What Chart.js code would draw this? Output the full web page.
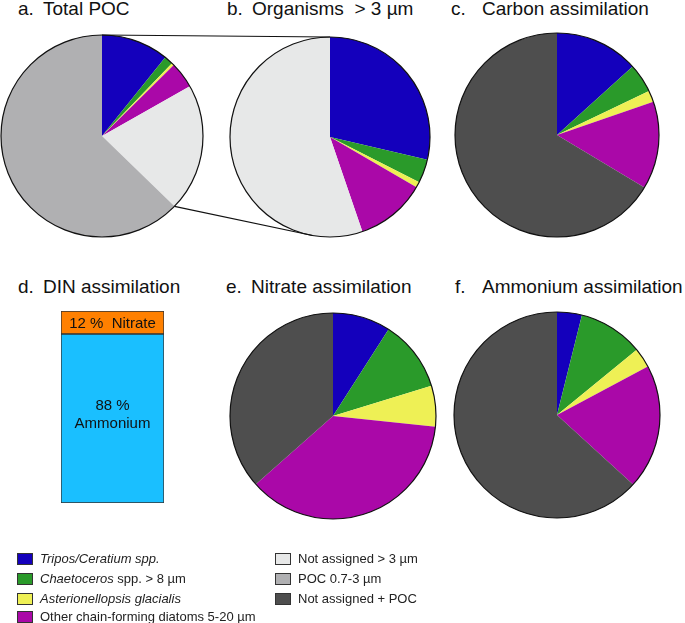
<!DOCTYPE html>
<html>
<head>
<meta charset="utf-8">
<script src="https://cdn.jsdelivr.net/npm/chart.js@4"></script>
<style>
body { margin: 0; background: #fff; font-family: "Liberation Sans", Arial, sans-serif; color: #111; }
#page { position: relative; width: 685px; height: 623px; overflow: hidden; }
canvas.c { position: absolute; }
.t { position: absolute; font-size: 19px; line-height: 19px; white-space: pre; }
.lg { position: absolute; font-size: 13px; line-height: 13px; white-space: pre; color: #222; }
.sw { position: absolute; width: 14px; height: 10px; border: 1px solid #333; }
</style>
</head>
<body>
<div id="page">
  <div class="t" style="left:18px;top:-1px">a.</div><div class="t" style="left:43px;top:-1px">Total POC</div>
  <div class="t" style="left:227px;top:-1px">b.</div><div class="t" style="left:252px;top:-1px">Organisms  &gt; 3 µm</div>
  <div class="t" style="left:451px;top:-1px">c.</div><div class="t" style="left:482px;top:-1px">Carbon assimilation</div>
  <div class="t" style="left:18px;top:277px">d.</div><div class="t" style="left:43px;top:277px">DIN assimilation</div>
  <div class="t" style="left:226px;top:277px">e.</div><div class="t" style="left:251px;top:277px">Nitrate assimilation</div>
  <div class="t" style="left:455px;top:277px">f.</div><div class="t" style="left:482px;top:277px">Ammonium assimilation</div>

  <canvas class="c" id="pa" width="206" height="206" style="left:-1px;top:33px"></canvas>
  <canvas class="c" id="pb" width="204" height="204" style="left:228px;top:35px"></canvas>
  <canvas class="c" id="pc" width="208" height="208" style="left:453px;top:31px"></canvas>
  <canvas class="c" id="bd" width="105" height="194" style="left:60px;top:310px"></canvas>
  <canvas class="c" id="pe" width="210" height="210" style="left:228px;top:311px"></canvas>
  <canvas class="c" id="pf" width="210" height="210" style="left:452px;top:310px"></canvas>
  <canvas class="c" id="ov" width="685" height="623" style="left:0;top:0;pointer-events:none"></canvas>

  <div id="legend"></div>
</div>
<script>
var categories = ['Tripos/Ceratium spp.', 'Chaetoceros spp. > 8 µm', 'Asterionellopsis glacialis',
    'Other chain-forming diatoms 5-20 µm', 'Not assigned > 3 µm', 'POC 0.7-3 µm', 'Not assigned + POC'];

// percent shares, clockwise from 12 o'clock
var totalPOC = [10.8, 1.4, 0.4, 4.2, 20.5, 62.8];
var organisms = [28.7, 3.8, 0.9, 11.4, 55.3];
var carbonAssim = [13.3, 4.6, 1.8, 13.9, 66.4];
var nitrateAssim = [9.1, 11.2, 6.4, 36.9, 36.6];
var ammoniumAssim = [3.9, 10.2, 3.1, 19.6, 63.3];

var dinLabels = ['Ammonium', 'Nitrate'];
var dinValues = [88, 12];

var colors = ['#1400bc', '#2a9a2a', '#eef055', '#aa08a8', '#e7e8e8', '#b0b0b2', '#4e4e4e'];
var legendItems = [
    ['<i>Tripos/Ceratium spp.</i>', 0, 17, 553],
    ['<i>Chaetoceros</i> spp. &gt; 8 µm', 1, 17, 573],
    ['<i>Asterionellopsis glacialis</i>', 2, 17, 593],
    ['Other chain-forming diatoms 5-20 µm', 3, 17, 611],
    ['Not assigned &gt; 3 µm', 4, 275, 553],
    ['POC 0.7-3 µm', 5, 275, 573],
    ['Not assigned + POC', 6, 275, 593]
];

var outline = {
    id: 'outline',
    afterDatasetsDraw: function(chart) {
        var arc = chart.getDatasetMeta(0).data[0];
        var ctx = chart.ctx;
        ctx.save();
        ctx.beginPath();
        ctx.arc(arc.x, arc.y, arc.outerRadius, 0, Math.PI * 2);
        ctx.lineWidth = 1.2;
        ctx.strokeStyle = '#111';
        ctx.stroke();
        ctx.restore();
    }
};

function pie(id, values, idx) {
    return new Chart(document.getElementById(id), {
        type: 'pie',
        data: {
            labels: idx.map(function(i) { return categories[i]; }),
            datasets: [{
                data: values,
                backgroundColor: idx.map(function(i) { return colors[i]; }),
                borderWidth: 0
            }]
        },
        options: {
            responsive: false,
            animation: false,
            layout: { padding: 2 },
            plugins: { legend: { display: false }, tooltip: { enabled: false } }
        },
        plugins: [outline]
    });
}

var chA = pie('pa', totalPOC, [0, 1, 2, 3, 4, 5]);
var chB = pie('pb', organisms, [0, 1, 2, 3, 4]);
pie('pc', carbonAssim, [0, 1, 2, 3, 6]);
pie('pe', nitrateAssim, [0, 1, 2, 3, 6]);
pie('pf', ammoniumAssim, [0, 1, 2, 3, 6]);

var barText = {
    id: 'barText',
    afterDatasetsDraw: function(chart) {
        var ctx = chart.ctx;
        var amm = chart.getDatasetMeta(0).data[0];
        var nit = chart.getDatasetMeta(1).data[0];
        ctx.save();
        ctx.fillStyle = '#111';
        ctx.font = '15px "Liberation Sans", Arial, sans-serif';
        ctx.textAlign = 'center';
        ctx.textBaseline = 'middle';
        ctx.fillText(dinValues[1] + ' %  ' + dinLabels[1], nit.x, (nit.y + nit.base) / 2 + 1);
        var my = (amm.y + amm.base) / 2;
        ctx.fillText(dinValues[0] + ' %', amm.x, my - 13);
        ctx.fillText(dinLabels[0], amm.x, my + 5);
        ctx.restore();
    }
};

new Chart(document.getElementById('bd'), {
    type: 'bar',
    data: {
        labels: ['DIN'],
        datasets: [
            { label: dinLabels[0], data: [dinValues[0]], backgroundColor: '#1abfff' },
            { label: dinLabels[1], data: [dinValues[1]], backgroundColor: '#ff8000' }
        ]
    },
    options: {
        responsive: false,
        animation: false,
        layout: { padding: 1 },
        datasets: { bar: { barPercentage: 1, categoryPercentage: 1, borderWidth: 1, borderColor: '#333', borderSkipped: false } },
        scales: {
            x: { stacked: true, display: false },
            y: { stacked: true, display: false, min: 0, max: 100 }
        },
        plugins: { legend: { display: false }, tooltip: { enabled: false } }
    },
    plugins: [barText]
});

// zoom connector lines between a and b
(function() {
    var ov = document.getElementById('ov').getContext('2d');
    var ca = document.getElementById('pa'), cb = document.getElementById('pb');
    var oa = [ca.offsetLeft, ca.offsetTop], ob = [cb.offsetLeft, cb.offsetTop];
    var a = chA.getDatasetMeta(0).data[4];
    var b = chB.getDatasetMeta(0).data[0];
    var pt = function(arc, off, ang) {
        return [off[0] + arc.x + arc.outerRadius * Math.cos(ang), off[1] + arc.y + arc.outerRadius * Math.sin(ang)];
    };
    var top = -Math.PI / 2;
    var p1 = pt(a, oa, top), p2 = pt(b, ob, top);
    var p3 = pt(a, oa, a.endAngle), p4 = pt(b, ob, top + 190 * Math.PI / 180);
    ov.strokeStyle = '#111';
    ov.lineWidth = 1.2;
    ov.beginPath();
    ov.moveTo(p1[0], p1[1]); ov.lineTo(p2[0], p2[1]);
    ov.moveTo(p3[0], p3[1]); ov.lineTo(p4[0], p4[1]);
    ov.stroke();
})();

var lg = document.getElementById('legend');
legendItems.forEach(function(it) {
    var sw = document.createElement('div');
    sw.className = 'sw';
    sw.style.left = it[2] + 'px';
    sw.style.top = it[3] + 'px';
    sw.style.background = colors[it[1]];
    lg.appendChild(sw);
    var tx = document.createElement('div');
    tx.className = 'lg';
    tx.style.left = (it[2] + 23) + 'px';
    tx.style.top = (it[3] - 1) + 'px';
    tx.innerHTML = it[0];
    lg.appendChild(tx);
});
</script>
</body>
</html>
